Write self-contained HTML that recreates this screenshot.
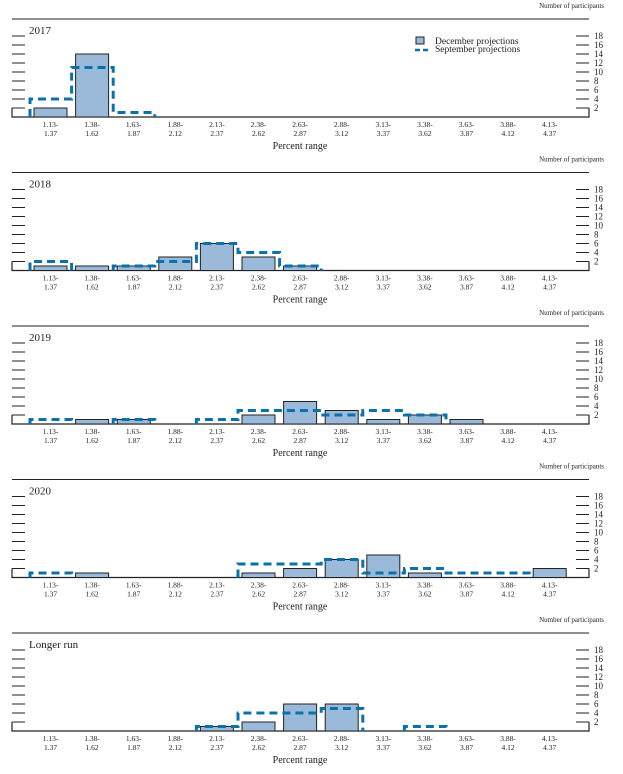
<!DOCTYPE html>
<html><head><meta charset="utf-8">
<style>
body{margin:0;background:#fff;}
svg text{font-family:"Liberation Serif",serif;fill:#222;}
</style></head>
<body>
<svg id="chart" width="623" height="769" viewBox="0 0 623 769" xmlns="http://www.w3.org/2000/svg"></svg>
<script>
const panelTitles = ["2017","2018","2019","2020","Longer run"];
const binLow = ["1.13-","1.38-","1.63-","1.88-","2.13-","2.38-","2.63-","2.88-","3.13-","3.38-","3.63-","3.88-","4.13-"];
const binHigh = ["1.37","1.62","1.87","2.12","2.37","2.62","2.87","3.12","3.37","3.62","3.87","4.12","4.37"];
const yTicks = [2,4,6,8,10,12,14,16,18];
const decProj2017 = [2,14,0,0,0,0,0,0,0,0,0,0,0];
const decProj2018 = [1,1,1,3,6,3,1,0,0,0,0,0,0];
const decProj2019 = [0,1,1,0,0,2,5,3,1,2,1,0,0];
const decProj2020 = [0,1,0,0,0,1,2,4,5,1,0,0,2];
const decProjLR   = [0,0,0,0,1,2,6,6,0,0,0,0,0];
const sepProj2017 = [4,11,1,0,0,0,0,0,0,0,0,0,0];
const sepProj2018 = [2,0,1,2,6,4,1,0,0,0,0,0,0];
const sepProj2019 = [1,0,1,0,1,3,3,2,3,2,0,0,0];
const sepProj2020 = [1,0,0,0,0,3,3,4,1,2,1,1,0];
const sepProjLR   = [0,0,0,0,1,4,4,5,0,1,0,0,0];
const decSeries = [decProj2017,decProj2018,decProj2019,decProj2020,decProjLR];
const sepSeries = [sepProj2017,sepProj2018,sepProj2019,sepProj2020,sepProjLR];

const svg = document.getElementById('chart');
const NS = 'http://www.w3.org/2000/svg';
function mk(tag, attrs, parent){const e=document.createElementNS(NS,tag);for(const k in attrs)e.setAttribute(k,attrs[k]);(parent||svg).appendChild(e);return e;}
const PANEL_H = 153.5, BASE = 117, UNIT = 4.5, X0 = 12, X1 = 589, BW = 41.6;
function xBin(i){return 30 + BW*i;}
function yVal(v,off){return off + BASE - v*UNIT;}

panelTitles.forEach((title,p)=>{
  const off = p*PANEL_H;
  const g = mk('g',{});
  
  
  let t = mk('text',{x:604,y:off+8,'font-size':7,'text-anchor':'end'},g);
  t.textContent='Number of participants';
  
  
  let l = mk('line',{x1:X0,x2:X1,y1:off+19,y2:off+19,stroke:'#222','stroke-width':1},g);
  
  
  t = mk('text',{x:29,y:off+34,'font-size':11},g);
  t.textContent=title;
  
  
  yTicks.forEach((v,k)=>{
    const y=yVal(v,off);
    let a=mk('line',{x1:X0,x2:25,y1:y,y2:y,stroke:'#222','stroke-width':1},g);
    
    
    let b=mk('line',{x1:576,x2:X1,y1:y,y2:y,stroke:'#222','stroke-width':1},g);
    
    
    let tl=mk('text',{x:594,y:y+3,'font-size':9},g);
    tl.textContent=v;
    
    
  });
  let ax=mk('path',{d:`M${X0},${yVal(2,off)}V${off+BASE}H${X1}V${yVal(2,off)}`,fill:'none',stroke:'#222','stroke-width':1.2},g);
  
  
  const dec=decSeries[p];
  dec.forEach((v,i)=>{
    if(v<=0)return;
    const r=mk('rect',{x:xBin(i)+4,y:yVal(v,off),width:33,height:v*UNIT,fill:'#9bb9d9',stroke:'#222','stroke-width':1},g);
    
    
  });
  const sep=sepSeries[p];
  let i=0;
  while(i<sep.length){
    if(sep[i]<=0){i++;continue;}
    let d=`M${xBin(i)},${off+BASE}`;
    while(i<sep.length && sep[i]>0){
      d+=`V${yVal(sep[i],off)}H${xBin(i+1)}`;
      i++;
    }
    d+=`V${off+BASE}`;
    const pth=mk('path',{d:d,fill:'none',stroke:'#0a72aa','stroke-width':3,'stroke-dasharray':'8,5'},g);
    
    
  }
  binLow.forEach((lab,i)=>{
    const cx=xBin(i)+20.5;
    const tx=mk('text',{x:cx,y:off+127,'font-size':7.5,'text-anchor':'middle'},g);
    tx.textContent=lab;
    
    
    const tx2=mk('text',{x:cx,y:off+136,'font-size':7.5,'text-anchor':'middle'},g);
    tx2.textContent=binHigh[i];
    
    
  });
  t=mk('text',{x:300,y:off+149,'font-size':10,'text-anchor':'middle'},g);
  t.textContent='Percent range';
  
  
});
// legend
const lg=mk('g',{});


let sw=mk('rect',{x:416,y:37,width:8,height:7,fill:'#9bb9d9',stroke:'#222','stroke-width':1},lg);


let lt=mk('text',{x:435,y:44,'font-size':9.5},lg);
lt.textContent='December projections';


let sl=mk('line',{x1:415,x2:429,y1:50,y2:50,stroke:'#0a72aa','stroke-width':2.5,'stroke-dasharray':'5,3'},lg);


lt=mk('text',{x:435,y:52,'font-size':9.5},lg);
lt.textContent='September projections';


</script>
</body></html>
